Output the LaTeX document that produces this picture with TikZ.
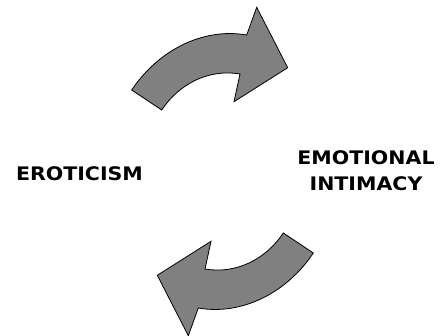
\documentclass[tikz,border=0pt]{standalone}
\usepackage{fontspec}
\setmainfont{Lato}
\newfontfamily\labelfont[FakeStretch=1.1]{DejaVu Sans Bold}
\begin{document}
\begin{tikzpicture}[x=0.75pt,y=-0.75pt,
  curvedarrow/.style={draw=black,line width=0.6pt,fill=black!50,line join=miter},
  label/.style={font=\labelfont\fontsize{14}{19.5}\selectfont,align=center,text=black,inner sep=0pt}]
\useasboundingbox (0,0) rectangle (448,335);
\path[curvedarrow] (131.7,90) .. controls (157.2,51.7) and (201.4,27.2) .. (246.7,35) -- (256.7,7.3) -- (287.7,67.7) -- (234,101.7) -- (240,74) .. controls (208.9,68.65) and (179.2,83.7) .. (161.7,110) -- cycle;
\path[curvedarrow,rotate around={180:(222.5,171.5)}] (131.7,90) .. controls (157.2,51.7) and (201.4,27.2) .. (246.7,35) -- (256.7,7.3) -- (287.7,67.7) -- (234,101.7) -- (240,74) .. controls (208.9,68.65) and (179.2,83.7) .. (161.7,110) -- cycle;
\node[label] (ero) at (79.5,173.5) {EROTICISM};
\node[label] (emo) at (366,171) {EMOTIONAL\\INTIMACY};
\end{tikzpicture}
\end{document}
